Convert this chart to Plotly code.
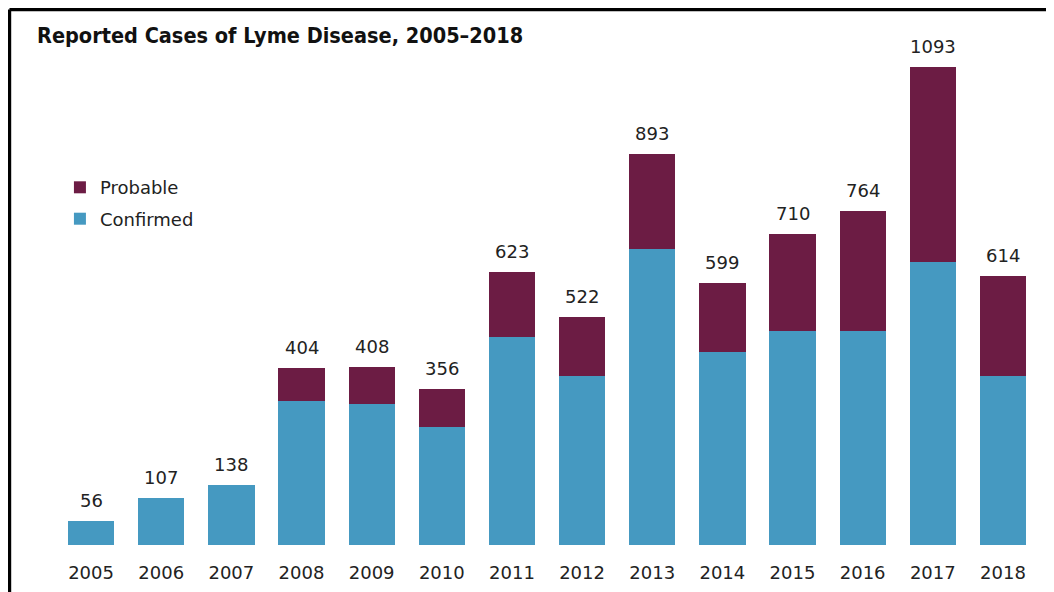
import plotly.graph_objects as go

years = ["2005", "2006", "2007", "2008", "2009", "2010", "2011",
         "2012", "2013", "2014", "2015", "2016", "2017", "2018"]
confirmed = [56, 107, 138, 330, 322, 270, 476, 386, 676, 442, 490, 490, 646, 386]
totals = [56, 107, 138, 404, 408, 356, 623, 522, 893, 599, 710, 764, 1093, 614]
probable = [t - c for t, c in zip(totals, confirmed)]

FONT = "DejaVu Sans"

fig = go.Figure()
fig.add_trace(go.Bar(x=years, y=confirmed, name="Confirmed", legendgroup="c",
                     legendrank=2,
                     marker=dict(color="#4599c1", line=dict(width=0))))
fig.add_trace(go.Bar(x=years, y=probable, name="Probable", legendgroup="p",
                     legendrank=1,
                     marker=dict(color="#6c1c44", line=dict(width=0))))

# totals above each stack (category index as x)
for i, t in enumerate(totals):
    fig.add_annotation(x=i, y=t, text=str(t), showarrow=False,
                       yanchor="bottom", yshift=8,
                       font=dict(family=FONT, size=18, color="#222"))

fig.update_layout(
    barmode="stack",
    bargap=0.34,
    width=1054, height=592,
    margin=dict(l=48, r=24, t=12, b=55),
    plot_bgcolor="white", paper_bgcolor="white",
    title=dict(text="<b>Reported Cases of Lyme Disease, 2005–2018</b>",
               x=0.0275, xanchor="left", y=0.953, yanchor="middle",
               font=dict(family="DejaVu Sans Condensed", size=21.5, color="#111")),
    legend=dict(x=0.004, y=0.716, xanchor="left", yanchor="top",
                traceorder="grouped", tracegroupgap=5,
                font=dict(family=FONT, size=18, color="#222"),
                itemwidth=30),
    showlegend=True,
)
fig.update_xaxes(type="category", showline=False, ticks="", showgrid=False,
                 tickfont=dict(family=FONT, size=18, color="#222"),
                 ticklabelstandoff=15)
fig.update_yaxes(range=[0, 1200], visible=False, showgrid=False)

# frame lines on the top and left
fig.add_shape(type="line", xref="paper", yref="paper", x0=-0.0474, x1=1.05,
              y0=1.02, y1=1.02, line=dict(color="black", width=3.5))
fig.add_shape(type="line", xref="paper", yref="paper", x0=-0.0474, x1=-0.0474,
              y0=1.02, y1=-0.2, line=dict(color="black", width=3.5))

fig.write_html("out.html")
